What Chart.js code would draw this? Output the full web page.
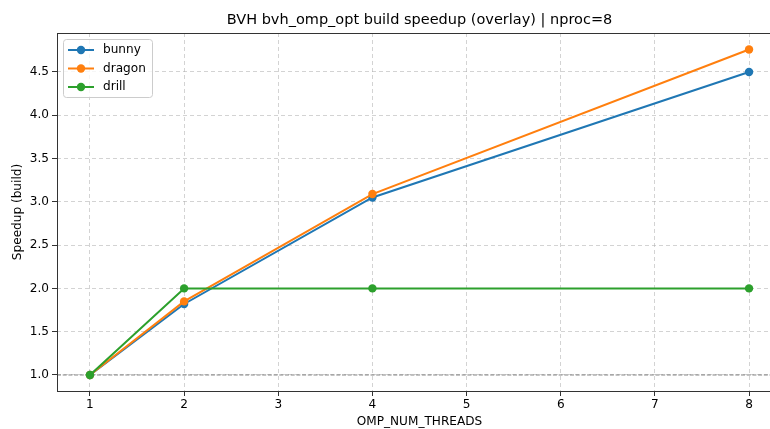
<!DOCTYPE html>
<html>
<head>
<meta charset="utf-8">
<script src="https://cdn.jsdelivr.net/npm/chart.js@4"></script>
<style>
html,body{margin:0;padding:0;background:#fff;overflow:hidden;}
#wrap{width:770px;height:429px;overflow:hidden;}
</style>
</head>
<body>
<div id="wrap"><canvas id="chart" width="800" height="429"></canvas></div>
<script>
// data
const threads=[1,2,4,8];
const bunny=[1.0,1.82,3.05,4.50];
const dragon=[1.0,1.85,3.09,4.76];
const drill=[1.0,2.0,2.0,2.0];

const seriesNames=["bunny","dragon","drill"];
const seriesColors=["#1f77b4","#ff7f0e","#2ca02c"];

const xTicks=[1,2,3,4,5,6,7,8];
const yTicks=[1.0,1.5,2.0,2.5,3.0,3.5,4.0,4.5];
const baseline=1.0;
const titleText="BVH bvh_omp_opt build speedup (overlay) | nproc=8";

const FONT="DejaVu Sans";
const FS=12.1;

function pts(vals){
    return threads.map((t,i)=>({x:t,y:vals[i]}));
}

const datasets=[bunny,dragon,drill].map((vals,i)=>({
    label:seriesNames[i],
    data:pts(vals),
    borderColor:seriesColors[i],
    backgroundColor:seriesColors[i],
    borderWidth:2,
    pointRadius:4.2,
    pointHoverRadius:4.2,
    pointBorderWidth:0,
    tension:0,
    order:3-i
}));

// dashed baseline at y=1
const baselinePlugin={
    id:"baseline",
    beforeDatasetsDraw(c){
        const {ctx,chartArea:a,scales:{y}}=c;
        const py=y.getPixelForValue(baseline);
        ctx.save();
        ctx.strokeStyle="#808080";
        ctx.lineWidth=1;
        ctx.setLineDash([4,1.7]);
        ctx.beginPath();
        ctx.moveTo(a.left,py);
        ctx.lineTo(a.right,py);
        ctx.stroke();
        ctx.restore();
    }
};

// frame, title, legend box
const framePlugin={
    id:"frame",
    afterDraw(c){
        const {ctx,chartArea:a}=c;
        ctx.save();
        ctx.strokeStyle="#333";
        ctx.lineWidth=1;
        ctx.strokeRect(Math.round(a.left)+0.5,Math.round(a.top)+0.5,a.right-a.left,a.bottom-a.top);

        // title centred on the axes
        ctx.fillStyle="#000";
        ctx.font="14.5px "+FONT;
        ctx.textAlign="center";
        ctx.textBaseline="middle";
        ctx.fillText(titleText,(a.left+a.right)/2,20);

        // legend
        ctx.textAlign="left";
        const bx=a.left+6, by=a.top+6, bw=89, bh=58, r=3;
        ctx.fillStyle="rgba(255,255,255,0.8)";
        ctx.strokeStyle="#cccccc";
        ctx.beginPath();
        ctx.roundRect(bx+0.5,by+0.5,bw,bh,r);
        ctx.fill();
        ctx.stroke();

        ctx.font=FS+"px "+FONT;
        seriesNames.forEach((n,i)=>{
            const yy=by+11+i*18.5;
            ctx.strokeStyle=seriesColors[i];
            ctx.fillStyle=seriesColors[i];
            ctx.lineWidth=2;
            ctx.beginPath();
            ctx.moveTo(bx+5,yy);
            ctx.lineTo(bx+31,yy);
            ctx.stroke();
            ctx.beginPath();
            ctx.arc(bx+18,yy,4.2,0,Math.PI*2);
            ctx.fill();
            ctx.fillStyle="#000";
            ctx.fillText(n,bx+40,yy);
        });
        ctx.restore();
    }
};

const gridOpts={
    color:"rgba(176,176,176,0.7)",
    lineWidth:0.8,
    tickColor:"#333",
    tickLength:5,
    tickWidth:1,
    tickBorderDash:[]
};

new Chart(document.getElementById("chart"),{
    type:"line",
    data:{datasets},
    options:{
        responsive:false,
        animation:false,
        devicePixelRatio:1,
        layout:{padding:{left:0,right:18,top:33,bottom:0}},
        plugins:{
            legend:{display:false},
            tooltip:{enabled:false},
            title:{display:false}
        },
        scales:{
            x:{
                type:"linear",
                min:0.65,
                max:8.35,
                afterBuildTicks(s){s.ticks=xTicks.map(v=>({value:v}));},
                afterFit(s){s.height=38;},
                grid:gridOpts,
                border:{display:false,dash:[4,3]},
                ticks:{
                    color:"#000",
                    padding:2,
                    font:{family:FONT,size:FS},
                    maxRotation:0,
                    callback:v=>String(v)
                },
                title:{
                    display:true,
                    text:"OMP_NUM_THREADS",
                    color:"#000",
                    font:{family:FONT,size:FS},
                    padding:{top:0,bottom:0}
                }
            },
            y:{
                type:"linear",
                min:0.815,
                max:4.95,
                afterBuildTicks(s){s.ticks=yTicks.map(v=>({value:v}));},
                afterFit(s){s.width=57;},
                grid:gridOpts,
                border:{display:false,dash:[4,3]},
                ticks:{
                    color:"#000",
                    padding:3,
                    font:{family:FONT,size:FS},
                    callback:v=>Number(v).toFixed(1)
                },
                title:{
                    display:true,
                    text:"Speedup (build)",
                    color:"#000",
                    font:{family:FONT,size:FS},
                    padding:{top:11,bottom:0}
                }
            }
        }
    },
    plugins:[baselinePlugin,framePlugin]
});
</script>
</body>
</html>
